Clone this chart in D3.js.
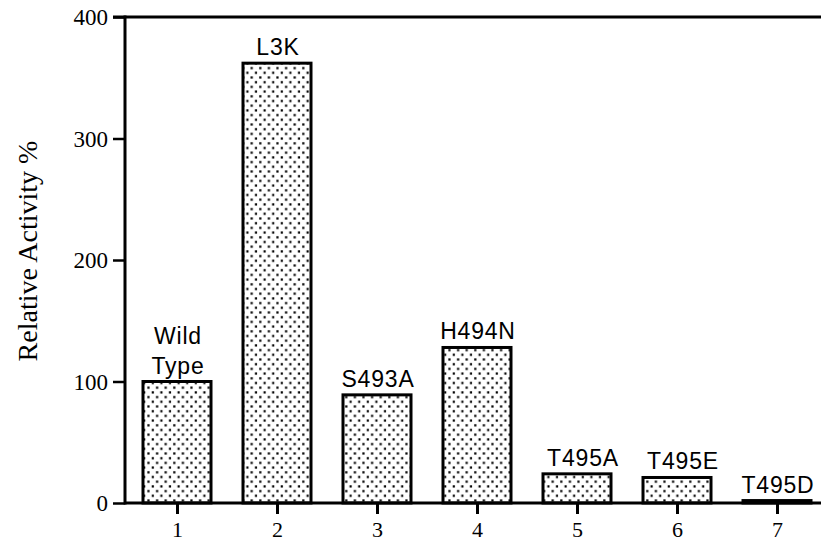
<!DOCTYPE html>
<html>
<head>
<meta charset="utf-8">
<script src="https://cdn.jsdelivr.net/npm/d3@7"></script>
<style>
  html, body { margin: 0; padding: 0; background: #fff; }
  svg { display: block; }
</style>
</head>
<body>
<svg id="chart" width="821" height="541"></svg>
<script>
// ---- data ----
const categories = ["1", "2", "3", "4", "5", "6", "7"];
const mutants = [["Wild", "Type"], ["L3K"], ["S493A"], ["H494N"], ["T495A"], ["T495E"], ["T495D"]];
const activity = [100, 362, 89, 128, 24, 21, 2];
const yTicks = [0, 100, 200, 300, 400];
const yLabel = "Relative Activity %";

// ---- layout ----
const svg = d3.select("#chart");
const W = 821, H = 541;
const x0 = 125, yTop = 17, yBase = 503;
const x = d3.scalePoint().domain(categories).range([177, 777]);
const y = d3.scaleLinear().domain([0, 400]).range([yBase, yTop]);
const barW = 68;

// pattern
const defs = svg.append("defs");
const pw = 8.6, ph = 9.4;
const pat = defs.append("pattern").attr("id", "dots")
  .attr("patternUnits", "userSpaceOnUse").attr("width", pw).attr("height", ph);
pat.append("rect").attr("width", pw).attr("height", ph).attr("fill", "#fff");
pat.append("rect").attr("x", 1.2).attr("y", 1.2).attr("width", 2.2).attr("height", 2.2).attr("fill", "#000");
pat.append("rect").attr("x", 1.2 + pw / 2).attr("y", 1.2 + ph / 2).attr("width", 2.2).attr("height", 2.2).attr("fill", "#000");

// bars
const data = categories.map((c, i) => ({ c, v: activity[i], lab: mutants[i] }));
svg.append("g").selectAll("rect").data(data).join("rect")
  .attr("x", d => x(d.c) - barW / 2)
  .attr("y", d => y(d.v))
  .attr("width", barW)
  .attr("height", d => yBase - y(d.v))
  .attr("fill", "url(#dots)")
  .attr("stroke", "#000")
  .attr("stroke-width", 3);

// bar labels
const labG = svg.append("g")
  .attr("font-family", "Liberation Sans, Arial, sans-serif")
  .attr("font-size", 23).attr("fill", "#000").attr("text-anchor", "middle")
  .attr("letter-spacing", 0.8);
data.forEach(d => {
  const n = d.lab.length;
  d.lab.forEach((t, k) => {
    labG.append("text")
      .attr("x", x(d.c) + (d.c === "5" || d.c === "6" ? 6 : 1))
      .attr("y", y(d.v) - 8 - (n - 1 - k) * 30)
      .text(t);
  });
});

// y axis
const yAxis = d3.axisLeft(y).tickValues(yTicks).tickSize(12).tickPadding(5).tickFormat(d3.format("d"));
const gy = svg.append("g").attr("transform", `translate(${x0},0)`).call(yAxis);
gy.select(".domain").remove();
gy.selectAll(".tick line").attr("stroke", "#000").attr("stroke-width", 2.5);
gy.selectAll(".tick text").attr("font-family", "Liberation Serif, Times New Roman, serif")
  .attr("font-size", 23).attr("fill", "#000").attr("dy", "0.33em");
svg.append("line").attr("x1", x0).attr("x2", x0).attr("y1", yTop - 1.5).attr("y2", yBase + 1.5)
  .attr("stroke", "#000").attr("stroke-width", 3);

// x axis
const xAxis = d3.axisBottom(x).tickSize(11).tickPadding(7);
const gx = svg.append("g").attr("transform", `translate(0,${yBase})`).call(xAxis);
gx.select(".domain").remove();
gx.selectAll(".tick line").attr("stroke", "#000").attr("stroke-width", 3);
gx.selectAll(".tick text").attr("font-family", "Liberation Serif, Times New Roman, serif")
  .attr("font-size", 22).attr("fill", "#000");
svg.append("line").attr("x1", x0).attr("x2", W).attr("y1", yBase).attr("y2", yBase)
  .attr("stroke", "#000").attr("stroke-width", 3);

// top frame line
svg.append("line").attr("x1", x0 - 12).attr("x2", W).attr("y1", yTop).attr("y2", yTop)
  .attr("stroke", "#000").attr("stroke-width", 3);

// y label
svg.append("text")
  .attr("transform", `translate(37,251) rotate(-90)`)
  .attr("text-anchor", "middle")
  .attr("font-family", "Liberation Serif, Times New Roman, serif")
  .attr("font-size", 28).attr("fill", "#000")
  .text(yLabel);
</script>
</body>
</html>
